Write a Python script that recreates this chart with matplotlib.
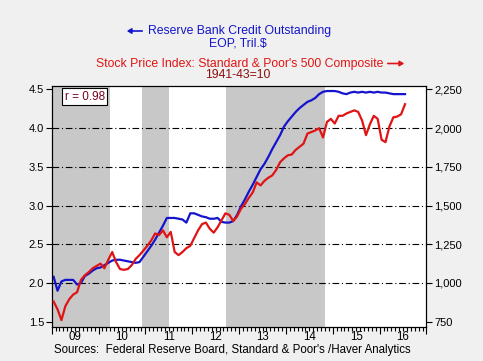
import numpy as np
import matplotlib
matplotlib.use("Agg")
import matplotlib.pyplot as plt
import matplotlib.transforms as mtransforms
from matplotlib.patches import FancyArrowPatch
from matplotlib.ticker import FuncFormatter, FixedLocator

plt.rcParams['font.family'] = ['Liberation Sans', 'DejaVu Sans']

# monthly data, Jan 2009 .. Jul 2016
start_year = 2009
reserve_credit = [
    2.08, 1.90, 2.02, 2.04, 2.04, 2.04, 1.98, 2.00, 2.09, 2.12, 2.16, 2.19,
    2.20, 2.23, 2.26, 2.29, 2.30, 2.30, 2.29, 2.28, 2.27, 2.26, 2.27, 2.34,
    2.41, 2.48, 2.56, 2.65, 2.74, 2.84, 2.84, 2.84, 2.83, 2.82, 2.78, 2.90,
    2.90, 2.88, 2.86, 2.85, 2.83, 2.83, 2.84, 2.79, 2.78, 2.78, 2.80, 2.88,
    2.99, 3.08, 3.18, 3.27, 3.37, 3.47, 3.54, 3.63, 3.73, 3.82, 3.91, 4.02,
    4.09, 4.15, 4.21, 4.26, 4.30, 4.34, 4.36, 4.39, 4.44, 4.47, 4.48, 4.48,
    4.48, 4.47, 4.45, 4.44, 4.46, 4.47, 4.46, 4.47, 4.46, 4.47, 4.46, 4.47,
    4.46, 4.46, 4.45, 4.44, 4.44, 4.44, 4.44,
]
sp500 = [
    880, 830, 760, 850, 895, 925, 940, 1020, 1050, 1070, 1095, 1110,
    1125, 1095, 1150, 1200, 1135, 1090, 1085, 1090, 1115, 1155, 1180, 1210,
    1240, 1275, 1320, 1310, 1340, 1295, 1330, 1200, 1180, 1200, 1225, 1240,
    1290, 1340, 1380, 1390, 1350, 1325, 1360, 1405, 1450, 1440, 1400, 1430,
    1480, 1510, 1550, 1585, 1650, 1630, 1660, 1680, 1695, 1730, 1780, 1805,
    1825, 1830, 1860, 1880, 1900, 1965, 1975, 1985, 2000, 1940, 2040, 2060,
    2030, 2080, 2080, 2095, 2105, 2115, 2105, 2050, 1955, 2025, 2080, 2060,
    1925, 1910, 2010, 2070, 2075, 2090, 2155,
]
# shaded periods (QE)
shade_periods = [(2009.0, 2010.25), (2010.92, 2011.5), (2012.73, 2014.83)]
year_labels = ['09', '10', '11', '12', '13', '14', '15', '16']
left_ticks = [1.5, 2.0, 2.5, 3.0, 3.5, 4.0, 4.5]
right_ticks = [750, 1000, 1250, 1500, 1750, 2000, 2250]
grid_levels = [2.0, 2.5, 3.0, 3.5, 4.0]
r_value = 0.98

x = start_year + (np.arange(len(reserve_credit)) + 0.5) / 12.0

BLUE = '#1414cc'
RED = '#e01414'
BG = '#f0f0f0'

fig = plt.figure(figsize=(4.83, 3.61), dpi=100, facecolor=BG)
ax = fig.add_axes([0.107, 0.095, 0.776, 0.667])
ax.set_facecolor('white')

# background layer: shading + grid on the left axes
for a, b in shade_periods:
    ax.axvspan(a, b, color='#c8c8c8', lw=0, zorder=0)
for g in grid_levels:
    ax.axhline(g, color='black', lw=0.8, ls=(0, (6, 2.5, 1, 2.5)), zorder=1)

ylo, yhi = 1.435, 4.546
ax.set_xlim(2009, 2017)
ax.set_ylim(ylo, yhi)
ax.plot(x, reserve_credit, color=BLUE, lw=1.6, zorder=3)

ax2 = ax.twinx()
ax2.set_ylim(ylo * 500, yhi * 500)
ax2.plot(x, sp500, color=RED, lw=1.6, zorder=3)

ax.set_yticks(left_ticks)
ax.yaxis.set_major_formatter(FuncFormatter(lambda v, p: f'{v:.1f}'))
ax2.set_yticks(right_ticks)
ax2.yaxis.set_major_formatter(FuncFormatter(lambda v, p: f'{int(v):,}'))

ax.set_xticks(np.arange(2009, 2018))
ax.set_xticklabels([])
ax.xaxis.set_minor_locator(FixedLocator(np.arange(2009, 2017, 1 / 12.0)))
ax.tick_params(axis='x', which='major', length=5, width=0.8, direction='out')
ax.tick_params(axis='x', which='minor', length=3, width=0.8, direction='out')
ax.tick_params(axis='y', length=4, width=0.8, labelsize=8, pad=1.5)
ax2.tick_params(axis='y', length=4, width=0.8, labelsize=8, pad=1.5)

for sp in list(ax.spines.values()) + list(ax2.spines.values()):
    sp.set_linewidth(0.8)

H = 361.0
W = 483.0
trans = mtransforms.blended_transform_factory(ax.transData, fig.transFigure)
for i, lab in enumerate(year_labels):
    fig.text(start_year + i + 0.5, 1 - 337 / H, lab, transform=trans,
             ha='center', va='center', fontsize=8.3)

ax2.text(0.088, 0.955, f'r = {r_value:.2f}', transform=ax.transAxes,
         ha='center', va='center', fontsize=8.5, color='#7a0020', zorder=10,
         bbox=dict(boxstyle='square,pad=0.2', fc='white', ec='black', lw=0.8))

fig.text(148 / W, 1 - 31 / H, 'Reserve Bank Credit Outstanding', color=BLUE,
         ha='left', va='center', fontsize=8.8)
fig.text(237.5 / W, 1 - 43 / H, 'EOP, Tril.$', color=BLUE,
         ha='center', va='center', fontsize=8.8)
fig.text(96 / W, 1 - 63.5 / H, "Stock Price Index: Standard & Poor's 500 Composite",
         color=RED, ha='left', va='center', fontsize=8.8)
fig.text(238 / W, 1 - 75 / H, '1941-43=10', color='#8a1010',
         ha='center', va='center', fontsize=8.8)
fig.text(54 / W, 1 - 349.5 / H,
         "Sources:  Federal Reserve Board, Standard & Poor's /Haver Analytics",
         ha='left', va='center', fontsize=8.3)

fig.add_artist(FancyArrowPatch(
    (145 / W, 1 - 31 / H), (124 / W, 1 - 31 / H), transform=fig.transFigure,
    arrowstyle='-|>,head_length=2.5,head_width=1.5', color=BLUE, lw=1.2,
    mutation_scale=1))
fig.add_artist(FancyArrowPatch(
    (385 / W, 1 - 63.5 / H), (407 / W, 1 - 63.5 / H), transform=fig.transFigure,
    arrowstyle='-|>,head_length=2.5,head_width=1.5', color=RED, lw=1.2,
    mutation_scale=1))

fig.savefig('out.png', dpi=100, facecolor=BG)
